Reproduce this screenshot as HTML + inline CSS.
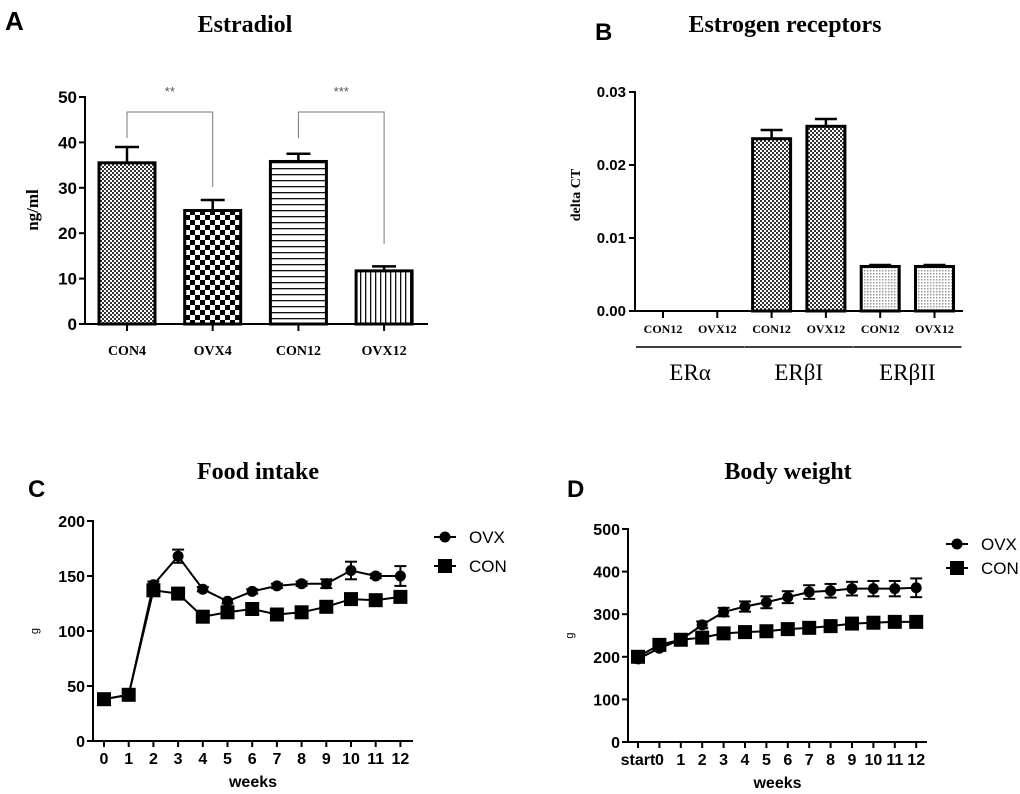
<!DOCTYPE html>
<html><head><meta charset="utf-8"><style>
body{margin:0;background:#fff;}
svg{display:block;font-family:"Liberation Sans",sans-serif;}
.ser{font-family:"Liberation Serif",serif;}
</style></head><body>
<svg width="1020" height="794" viewBox="0 0 1020 794">
<defs>
<pattern id="pFine" width="4" height="4" patternUnits="userSpaceOnUse"><rect width="4" height="4" fill="#fff"/><rect width="2" height="2" fill="#333"/><rect x="2" y="2" width="2" height="2" fill="#333"/></pattern>
<pattern id="pCheck" width="10" height="10" patternUnits="userSpaceOnUse"><rect width="10" height="10" fill="#fff"/><rect width="5" height="5" fill="#000"/><rect x="5" y="5" width="5" height="5" fill="#000"/></pattern>
<pattern id="pHor" width="6" height="6" patternUnits="userSpaceOnUse"><rect width="6" height="6" fill="#fff"/><rect y="0" width="6" height="1.3" fill="#111"/></pattern>
<pattern id="pVer" width="5" height="5" patternUnits="userSpaceOnUse"><rect width="5" height="5" fill="#fff"/><rect width="1.3" height="5" fill="#111"/></pattern>
<pattern id="pLight" width="3" height="3" patternUnits="userSpaceOnUse"><rect width="3" height="3" fill="#fff"/><rect width="1.5" height="1.5" fill="#999"/></pattern>
</defs>
<g id="gA"></g>
<g id="gB"></g>
<g id="gC"></g>
<g id="gD"></g>
</svg>
<script>
const aCats=["CON4","OVX4","CON12","OVX12"];
const aVals=[35.5,25,35.8,11.7];
const aErr=[3.5,2.3,1.7,1.0];
const aTicks=[0,10,20,30,40,50];
const bCats=["CON12","OVX12","CON12","OVX12","CON12","OVX12"];
const bVals=[0,0,0.0236,0.0253,0.0061,0.0061];
const bErr=[0,0,0.0012,0.0010,0.0002,0.0002];
const bTicks=[0,0.01,0.02,0.03];
const bGroups=["ERα","ERβI","ERβII"];
const cWeeks=["0","1","2","3","4","5","6","7","8","9","10","11","12"];
const cOvx=[38,42,142,168,138,127,136,141,143,143,155,150,150];
const cOvxErr=[2,2,3,6,2,2,2,2,2,4,8,2,9];
const cCon=[38,42,137,134,113,117,120,115,117,122,129,128,131];
const cConErr=[2,2,4,2,4,2,2,2,2,4,4,2,2];
const cTicks=[0,50,100,150,200];
const dWeeks=["start","0","1","2","3","4","5","6","7","8","9","10","11","12"];
const dOvx=[195,220,240,275,305,318,328,340,352,355,360,360,360,362];
const dOvxErr=[4,5,5,8,10,12,14,14,16,16,16,18,18,22];
const dCon=[200,228,240,245,255,258,260,265,268,272,278,280,282,282];
const dConErr=[4,4,4,10,8,8,8,8,8,8,6,4,4,4];
const dTicks=[0,100,200,300,400,500];
const NS="http://www.w3.org/2000/svg";
function mk(p,t,at,txt){const e=document.createElementNS(NS,t);for(const k in at)e.setAttribute(k,at[k]);if(txt!==undefined)e.textContent=txt;p.appendChild(e);return e;}

// Panel A
(function(){
const g=document.getElementById('gA');
const y=v=>324-v*4.54, x=i=>127+i*85.7;
let e=mk(g,'text',{x:5,y:30,'font-size':26,'font-weight':'bold'},'A');
e=mk(g,'text',{x:245,y:32,'font-size':24,'font-weight':'bold','text-anchor':'middle',class:'ser'},'Estradiol');
mk(g,'line',{x1:85,y1:96,x2:85,y2:325,stroke:'#000','stroke-width':2});
mk(g,'line',{x1:80,y1:324,x2:428,y2:324,stroke:'#000','stroke-width':2});
aTicks.forEach(t=>{mk(g,'line',{x1:79,x2:85,y1:y(t),y2:y(t),stroke:'#000','stroke-width':2});
e=mk(g,'text',{x:77,y:y(t)+6,'font-size':17,'font-weight':'bold','text-anchor':'end'},t);});
e=mk(g,'text',{x:0,y:0,'font-size':17,'font-weight':'bold','text-anchor':'middle',class:'ser',transform:'translate(38,210) rotate(-90)'},'ng/ml');
const fills=['url(#pFine)','url(#pCheck)','url(#pHor)','url(#pVer)'];
aVals.forEach((v,i)=>{const cx=x(i);
mk(g,'line',{x1:cx,x2:cx,y1:y(v),y2:y(v+aErr[i]),stroke:'#000','stroke-width':2.5});
mk(g,'line',{x1:cx-12,x2:cx+12,y1:y(v+aErr[i]),y2:y(v+aErr[i]),stroke:'#000','stroke-width':2.5});
e=mk(g,'rect',{x:cx-28,y:y(v),width:56,height:324-y(v),fill:fills[i],stroke:'#000','stroke-width':3});
mk(g,'line',{x1:cx,x2:cx,y1:324,y2:331,stroke:'#000','stroke-width':2});
e=mk(g,'text',{x:cx,y:355,'font-size':14,'font-weight':'bold','text-anchor':'middle',class:'ser'},aCats[i]);});
[[0,1,'**',138,187],[2,3,'***',138,244]].forEach(b=>{
mk(g,'polyline',{points:`${x(b[0])},${b[3]} ${x(b[0])},112 ${x(b[1])},112 ${x(b[1])},${b[4]}`,fill:'none',stroke:'#777','stroke-width':1});
e=mk(g,'text',{x:(x(b[0])+x(b[1]))/2,y:96,'font-size':13,fill:'#555','text-anchor':'middle'},b[2]);});
})();

// Panel B
(function(){
const g=document.getElementById('gB');
const y=v=>311-v*7300, x=i=>663+i*54.3;
let e=mk(g,'text',{x:595,y:40,'font-size':24,'font-weight':'bold'},'B');
e=mk(g,'text',{x:785,y:32,'font-size':24,'font-weight':'bold','text-anchor':'middle',class:'ser'},'Estrogen receptors');
mk(g,'line',{x1:635,y1:91,x2:635,y2:312,stroke:'#000','stroke-width':2});
mk(g,'line',{x1:630,y1:311,x2:963,y2:311,stroke:'#000','stroke-width':2});
bTicks.forEach(t=>{mk(g,'line',{x1:629,x2:635,y1:y(t),y2:y(t),stroke:'#000','stroke-width':2});
e=mk(g,'text',{x:626,y:y(t)+5,'font-size':15,'font-weight':'bold','text-anchor':'end'},t.toFixed(2));});
e=mk(g,'text',{x:0,y:0,'font-size':14,'font-weight':'bold','text-anchor':'middle',class:'ser',transform:'translate(580,195) rotate(-90)'},'delta CT');
bVals.forEach((v,i)=>{const cx=x(i);
if(v>0){mk(g,'line',{x1:cx,x2:cx,y1:y(v),y2:y(v+bErr[i]),stroke:'#000','stroke-width':2.5});
mk(g,'line',{x1:cx-11,x2:cx+11,y1:y(v+bErr[i]),y2:y(v+bErr[i]),stroke:'#000','stroke-width':2.5});
e=mk(g,'rect',{x:cx-19,y:y(v),width:38,height:311-y(v),fill:i<4?'url(#pFine)':'url(#pLight)',stroke:'#000','stroke-width':3});}
mk(g,'line',{x1:cx,x2:cx,y1:311,y2:318,stroke:'#000','stroke-width':2});
e=mk(g,'text',{x:cx,y:333,'font-size':12,'font-weight':'bold','text-anchor':'middle',class:'ser'},bCats[i]);});
bGroups.forEach((gname,k)=>{const a=x(2*k)-27,b=x(2*k+1)+27;
mk(g,'line',{x1:a,x2:b,y1:347,y2:347,stroke:'#000','stroke-width':1.5});
e=mk(g,'text',{x:(a+b)/2,y:380,'font-size':23,'text-anchor':'middle',class:'ser'},gname);});
})();

function linePanel(g,cfg){
let e;
const {x,y}=cfg;
mk(g,'line',{x1:cfg.ax,y1:cfg.top-1,x2:cfg.ax,y2:cfg.base+1,stroke:'#000','stroke-width':2});
mk(g,'line',{x1:cfg.ax,y1:cfg.base,x2:cfg.axEnd,y2:cfg.base,stroke:'#000','stroke-width':2});
cfg.ticks.forEach(t=>{mk(g,'line',{x1:cfg.ax-6,x2:cfg.ax,y1:y(t),y2:y(t),stroke:'#000','stroke-width':2});
e=mk(g,'text',{x:cfg.ax-8,y:y(t)+6,'font-size':16,'font-weight':'bold','text-anchor':'end'},t);});
cfg.cats.forEach((c,i)=>{mk(g,'line',{x1:x(i),x2:x(i),y1:cfg.base,y2:cfg.base+6,stroke:'#000','stroke-width':2});
e=mk(g,'text',{x:x(i),y:cfg.base+23,'font-size':16,'font-weight':'bold','text-anchor':'middle'},c);});
e=mk(g,'text',{x:(cfg.ax+cfg.axEnd)/2,y:cfg.base+46,'font-size':16,'font-weight':'bold','text-anchor':'middle'},'weeks');
e=mk(g,'text',{x:0,y:0,'font-size':11,'text-anchor':'middle',transform:`translate(${cfg.ax-55},${(cfg.top+cfg.base)/2}) rotate(-90)`},'g');
[[cfg.con,cfg.conErr,'sq','con'],[cfg.ovx,cfg.ovxErr,'ci','ovx']].forEach(s=>{
const pts=s[0].map((v,i)=>x(i)+','+y(v)).join(' ');
e=mk(g,'polyline',{points:pts,fill:'none',stroke:'#000','stroke-width':2});
s[0].forEach((v,i)=>{const er=s[1][i];
mk(g,'line',{x1:x(i),x2:x(i),y1:y(v-er),y2:y(v+er),stroke:'#000','stroke-width':2});
mk(g,'line',{x1:x(i)-6,x2:x(i)+6,y1:y(v-er),y2:y(v-er),stroke:'#000','stroke-width':2});
mk(g,'line',{x1:x(i)-6,x2:x(i)+6,y1:y(v+er),y2:y(v+er),stroke:'#000','stroke-width':2});
if(s[2]==='sq')e=mk(g,'rect',{x:x(i)-7,y:y(v)-7,width:14,height:14,fill:'#000'});
else e=mk(g,'circle',{cx:x(i),cy:y(v),r:5.5,fill:'#000'});
});});
[['OVX','ci',cfg.ly1],['CON','sq',cfg.ly2]].forEach(l=>{
mk(g,'line',{x1:cfg.lx,x2:cfg.lx+22,y1:l[2],y2:l[2],stroke:'#000','stroke-width':2});
if(l[1]==='sq')mk(g,'rect',{x:cfg.lx+4,y:l[2]-7,width:14,height:14,fill:'#000'});else mk(g,'circle',{cx:cfg.lx+11,cy:l[2],r:5.5,fill:'#000'});
e=mk(g,'text',{x:cfg.lx+35,y:l[2]+6,'font-size':17},l[0]);});
}

(function(){
const g=document.getElementById('gC');
let e=mk(g,'text',{x:28,y:497,'font-size':24,'font-weight':'bold'},'C');
e=mk(g,'text',{x:258,y:479,'font-size':24,'font-weight':'bold','text-anchor':'middle',class:'ser'},'Food intake');
linePanel(g,{x:i=>104+i*24.7,y:v=>741-v*1.1,ax:93,axEnd:413,top:521,base:741,ticks:cTicks,cats:cWeeks,ovx:cOvx,ovxErr:cOvxErr,con:cCon,conErr:cConErr,lx:434,ly1:537,ly2:566});
})();
(function(){
const g=document.getElementById('gD');
let e=mk(g,'text',{x:567,y:497,'font-size':24,'font-weight':'bold'},'D');
e=mk(g,'text',{x:788,y:479,'font-size':24,'font-weight':'bold','text-anchor':'middle',class:'ser'},'Body weight');
linePanel(g,{x:i=>638+i*21.4,y:v=>742-v*0.426,ax:628,axEnd:927,top:529,base:742,ticks:dTicks,cats:dWeeks,ovx:dOvx,ovxErr:dOvxErr,con:dCon,conErr:dConErr,lx:946,ly1:544,ly2:568});
})();
</script>
</body></html>
